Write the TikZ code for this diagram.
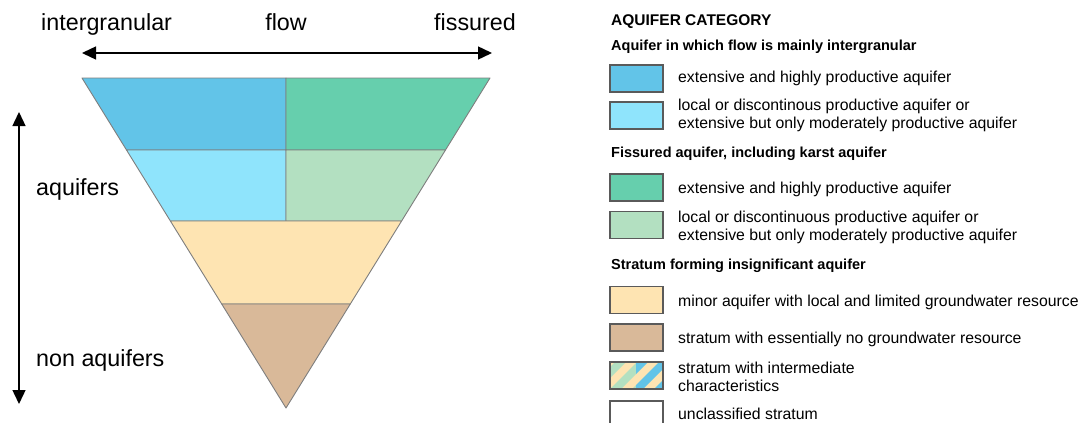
\documentclass[tikz,border=0pt]{standalone}
\usepackage{fontspec}
\setmainfont{Liberation Sans}
\usetikzlibrary{arrows.meta,calc}
\definecolor{cBlue}{HTML}{62C4E8}
\definecolor{cGreen}{HTML}{66CFAD}
\definecolor{cLBlue}{HTML}{8FE4FC}
\definecolor{cLGreen}{HTML}{B3E0C1}
\definecolor{cYellow}{HTML}{FEE4B2}
\definecolor{cBrown}{HTML}{D9B999}
\definecolor{cEdge}{HTML}{7E7E7E}
\definecolor{cSwEdge}{HTML}{5A5A5A}
\tikzset{
  band/.style={draw=cEdge, line width=0.9pt, line join=round},
  biglabel/.style={font=\fontsize{23.3}{28}\selectfont, inner sep=0pt},
  legtitle/.style={font=\fontsize{15.5}{18}\selectfont\bfseries, inner sep=0pt, anchor=base west},
  legsub/.style={font=\fontsize{14.5}{17}\selectfont\bfseries, inner sep=0pt, anchor=base west},
  legtext/.style={font=\fontsize{15.8}{17.5}\selectfont, inner sep=0pt, anchor=base west, align=left},
  legtwo/.style={font=\fontsize{15.8}{17.5}\selectfont, inner sep=0pt, anchor=west, align=left},
  swatch/.style={draw=cSwEdge, line width=1.1pt, minimum width=53pt, minimum height=27pt, inner sep=0pt},
  dblarrow/.style={<->, line width=1.4pt, >={Triangle[length=14pt,width=13pt]}},
}
\begin{document}
\begin{tikzpicture}[x=1pt,y=-1pt]
\clip (0,0) rectangle (1090,423);
\fill[white] (0,0) rectangle (1090,423);

% ---------- triangle ----------
\coordinate (TL) at (82,78);
\coordinate (TR) at (490,78);
\coordinate (AP) at (286,408);
\coordinate (L1) at ($(TL)!0.2182!(AP)$);
\coordinate (R1) at ($(TR)!0.2182!(AP)$);
\coordinate (L2) at ($(TL)!0.4333!(AP)$);
\coordinate (R2) at ($(TR)!0.4333!(AP)$);
\coordinate (L3) at ($(TL)!0.6848!(AP)$);
\coordinate (R3) at ($(TR)!0.6848!(AP)$);
\coordinate (MT) at (286,78);
\coordinate (M1) at (286,150);
\coordinate (M2) at (286,221);

\filldraw[band, fill=cBlue] (TL) -- (MT) -- (M1) -- (L1) -- cycle;
\filldraw[band, fill=cGreen] (MT) -- (TR) -- (R1) -- (M1) -- cycle;
\filldraw[band, fill=cLBlue] (L1) -- (M1) -- (M2) -- (L2) -- cycle;
\filldraw[band, fill=cLGreen] (M1) -- (R1) -- (R2) -- (M2) -- cycle;
\filldraw[band, fill=cYellow] (L2) -- (R2) -- (R3) -- (L3) -- cycle;
\filldraw[band, fill=cBrown] (L3) -- (R3) -- (AP) -- cycle;

% ---------- arrows and labels ----------
\coordinate (hL) at (82,53);
\coordinate (hR) at (492,53);
\draw[dblarrow] (hL) -- (hR);
\coordinate (vT) at (19,112);
\coordinate (vB) at (19,404);
\draw[dblarrow] (vT) -- (vB);

\node[biglabel, anchor=base west] (intergran) at (41,30) {intergranular};
\node[biglabel, anchor=base] (flow) at (286,30) {flow};
\node[biglabel, anchor=base east] (fissured) at (516,30) {fissured};
\node[biglabel, anchor=base west] (aquifers) at (36,195) {aquifers};
\node[biglabel, anchor=base west] (nonaquifers) at (36,366) {non aquifers};

% ---------- legend ----------
\node[legtitle] (title) at (611,25) {AQUIFER CATEGORY};
\node[legsub] (sub1) at (611,50) {Aquifer in which flow is mainly intergranular};
\node[legsub] (sub2) at (611,157) {Fissured aquifer, including karst aquifer};
\node[legsub] (sub3) at (611,269) {Stratum forming insignificant aquifer};

\node[swatch, fill=cBlue] (s1) at (636.5,78.5) {};
\node[legtext] (t1) at (678,82) {extensive and highly productive aquifer};

\node[swatch, fill=cLBlue] (s2) at (636.5,115.5) {};
\node[legtwo] (t2) at (678,115.5) {local or discontinous productive aquifer or\\extensive but only moderately productive aquifer};

\node[swatch, fill=cGreen] (s3) at (636.5,187.5) {};
\node[legtext] (t3) at (678,193) {extensive and highly productive aquifer};

\node[swatch, fill=cLGreen] (s4) at (636.5,225) {};
\node[legtwo] (t4) at (678,227.5) {local or discontinuous productive aquifer or\\extensive but only moderately productive aquifer};

\node[swatch, fill=cYellow] (s5) at (636.5,300) {};
\node[legtext] (t5) at (678,306) {minor aquifer with local and limited groundwater resource};

\node[swatch, fill=cBrown] (s6) at (636.5,337.5) {};
\node[legtext] (t6) at (678,343) {stratum with essentially no groundwater resource};

% hatched swatch
\begin{scope}
  \clip (610,362) rectangle (663,389);
  \fill[cYellow] (610,362) rectangle (663,389);
  \begin{scope}
    \clip (610,362) rectangle (636,389);
    \foreach \a in {588,610,632}
      \fill[cLGreen] (\a,389) -- (\a+11,389) -- (\a+38,362) -- (\a+27,362) -- cycle;
  \end{scope}
  \begin{scope}
    \clip (636,362) rectangle (663,389);
    \foreach \a in {610,632,654}
      \fill[cBlue] (\a,389) -- (\a+11,389) -- (\a+38,362) -- (\a+27,362) -- cycle;
  \end{scope}
\end{scope}
\node[swatch] (s7) at (636.5,375.5) {};
\node[legtwo] (t7) at (678,377) {stratum with intermediate\\characteristics};

\node[swatch, fill=white] (s8) at (636.5,414.5) {};
\node[legtext] (t8) at (678,419) {unclassified stratum};
\end{tikzpicture}
\end{document}
